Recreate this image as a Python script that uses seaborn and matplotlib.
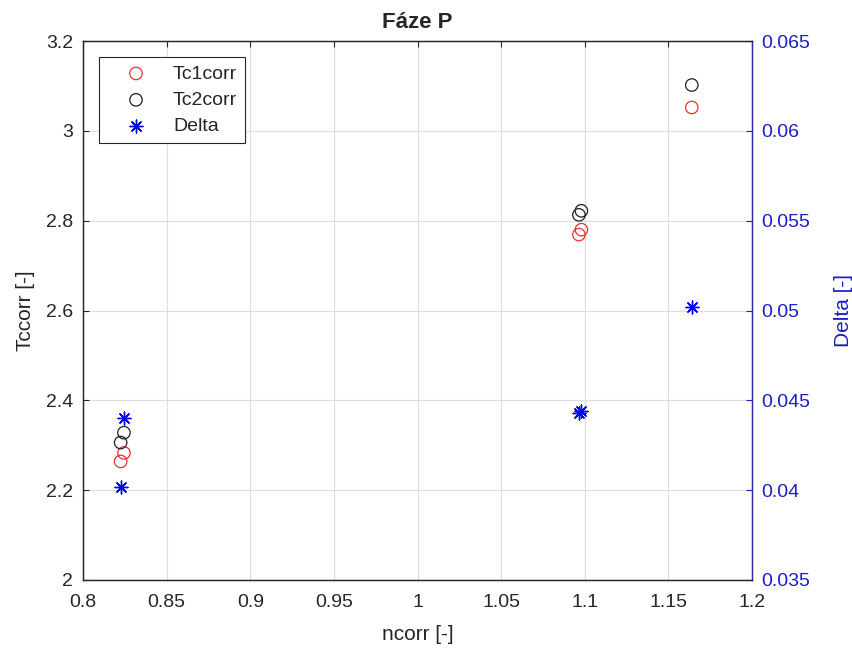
import matplotlib
matplotlib.use("Agg")
import matplotlib.pyplot as plt
import seaborn as sns
import pandas as pd

# Measured values
ncorr = [0.8225, 0.8245, 1.0965, 1.0980, 1.1640]
tc1corr = [2.264, 2.283, 2.769, 2.780, 3.052]
tc2corr = [2.306, 2.328, 2.813, 2.822, 3.102]
delta = [0.0402, 0.0440, 0.0443, 0.0444, 0.0502]

x_ticks = [0.8, 0.85, 0.9, 0.95, 1.0, 1.05, 1.1, 1.15, 1.2]
x_labels = ["0.8", "0.85", "0.9", "0.95", "1", "1.05", "1.1", "1.15", "1.2"]
y_ticks = [2.0, 2.2, 2.4, 2.6, 2.8, 3.0, 3.2]
y_labels = ["2", "2.2", "2.4", "2.6", "2.8", "3", "3.2"]
d_ticks = [0.035, 0.04, 0.045, 0.05, 0.055, 0.06, 0.065]
d_labels = ["0.035", "0.04", "0.045", "0.05", "0.055", "0.06", "0.065"]

df = pd.DataFrame({"ncorr": ncorr, "Tc1corr": tc1corr,
                   "Tc2corr": tc2corr, "Delta": delta})

sns.set_style("white")
plt.rcParams["font.family"] = ["Liberation Sans", "DejaVu Sans"]
plt.rcParams["font.size"] = 14

BLUE = "#0000ff"
BLUE_TXT = "#1c1cc8"
DARK = "#262626"
ASTERISK = (8, 2, 0)

fig = plt.figure(figsize=(8.53, 6.5), dpi=100)
ax = fig.add_axes([83 / 853, 1 - 580 / 650, 669 / 853, 539 / 650])
ax2 = ax.twinx()

sns.scatterplot(data=df, x="ncorr", y="Tc1corr", ax=ax, marker="o", s=80,
                facecolor="none", edgecolor="#e83030", linewidth=0.9,
                label="Tc1corr", legend=False, zorder=3)
sns.scatterplot(data=df, x="ncorr", y="Tc2corr", ax=ax, marker="o", s=80,
                facecolor="none", edgecolor="#202020", linewidth=0.9,
                label="Tc2corr", legend=False, zorder=3)
sns.scatterplot(data=df, x="ncorr", y="Delta", ax=ax2, marker=ASTERISK, s=85,
                color=BLUE, edgecolor=BLUE, linewidth=1.0,
                label="Delta", legend=False, zorder=3)

ax.set_xlim(0.8, 1.2)
ax.set_ylim(2.0, 3.2)
ax2.set_ylim(0.035, 0.065)
ax.set_xticks(x_ticks, x_labels)
ax.set_yticks(y_ticks, y_labels)
ax2.set_yticks(d_ticks, d_labels)

ax.grid(True, color="#dedede", linewidth=0.8)
ax.set_axisbelow(True)

ax.set_xlabel("ncorr [-]", fontsize=15, labelpad=10)
ax.set_ylabel("Tccorr [-]", fontsize=15, labelpad=8)
ax2.set_ylabel("Delta [-]", fontsize=15, color=BLUE_TXT, labelpad=17)
ax.set_title("Fáze P", fontsize=16, fontweight="bold", pad=9)

for a in (ax, ax2):
    a.tick_params(direction="in", length=4.5, width=0.8, labelsize=14)
    for s in a.spines.values():
        s.set_linewidth(0.9)
        s.set_color(DARK)
ax.tick_params(axis="both", colors=DARK, labelcolor=DARK, top=True)
ax.tick_params(axis="x", pad=10)
ax.tick_params(axis="y", pad=7)
ax2.tick_params(axis="y", colors=BLUE_TXT, labelcolor=BLUE_TXT, pad=7)
ax2.spines["right"].set_color("#2a2aa8")
ax.set_zorder(ax2.get_zorder() - 1)
ax2.patch.set_visible(False)

h1, l1 = ax.get_legend_handles_labels()
h2, l2 = ax2.get_legend_handles_labels()
leg = ax2.legend(h1 + h2, l1 + l2, loc="upper left",
                 bbox_to_anchor=(0.024, 0.970), frameon=True, fancybox=False,
                 edgecolor=DARK, framealpha=1, fontsize=14,
                 handlelength=3.0, handletextpad=0.4, borderpad=0.4,
                 labelspacing=0.45, borderaxespad=0)
leg.get_frame().set_linewidth(0.8)

fig.savefig("out.png", dpi=100)
